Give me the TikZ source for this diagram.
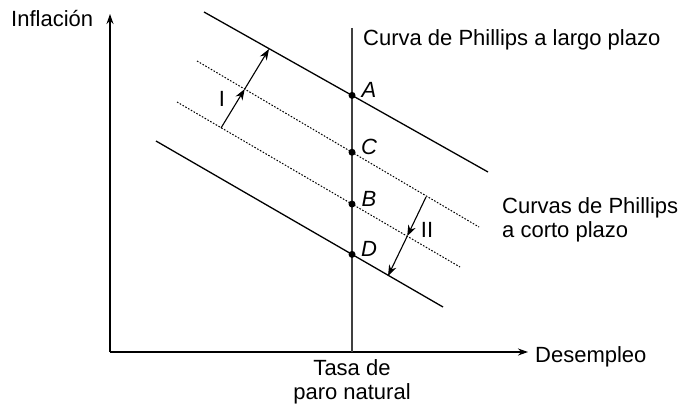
\documentclass[tikz,border=0pt]{standalone}
\usepackage{fontspec}
\setmainfont{Liberation Sans}
\usetikzlibrary{arrows.meta}

\begin{document}
\begin{tikzpicture}[x=1pt,y=-1pt,
  axis/.style={-{Stealth[length=10pt,width=7pt]},line width=1.2pt},
  spc/.style={line width=1.3pt},
  spcdot/.style={line width=1pt,dash pattern=on 1.6pt off 1.6pt},
  lpc/.style={draw=black!75,line width=1.3pt},
  move/.style={-{Stealth[length=11pt,width=8pt]},line width=1.1pt},
  dot/.style={circle,fill=black,inner sep=0pt,minimum size=7pt},
  txt/.style={font=\fontsize{22}{24}\selectfont,inner sep=0pt},
  ptlbl/.style={font=\fontsize{22}{24}\selectfont\itshape,inner sep=0pt},
]
\useasboundingbox (0,0) rectangle (682,404);
\coordinate (O) at (110,352);
\coordinate (ytop) at (110,14);
\coordinate (xend) at (528,352);
\draw[axis] (O) -- (ytop);
\draw[axis] (O) -- (xend);
\node[txt,anchor=base west] (infl) at (11,27) {Inflación};
\node[txt,anchor=base west] (desem) at (535,362) {Desempleo};
\coordinate (lr0) at (352,28);
\coordinate (lr1) at (352,352);
\draw[lpc] (lr0) -- (lr1);
\node[txt,anchor=base west] (lrtxt) at (363,46) {Curva de Phillips a largo plazo};
\node[txt,anchor=north,align=center] (natural) at (352,359) {Tasa de\\paro natural};
% short-run curves
\coordinate (a0) at (204,12);  \coordinate (a1) at (488,172);
\coordinate (c0) at (197,61);  \coordinate (c1) at (479,227);
\coordinate (b0) at (177,102); \coordinate (b1) at (460,267);
\coordinate (d0) at (156,141); \coordinate (d1) at (443,307);
\draw[spc] (a0) -- (a1);
\draw[spcdot] (c0) -- (c1);
\draw[spcdot] (b0) -- (b1);
\draw[spc] (d0) -- (d1);
\node[txt,anchor=north west,align=left] (srtxt) at (502,197) {Curvas de Phillips\\a corto plazo};
\node[dot] (A) at (intersection of lr0--lr1 and a0--a1) {};
\node[dot] (C) at (intersection of lr0--lr1 and c0--c1) {};
\node[dot] (B) at (intersection of lr0--lr1 and b0--b1) {};
\node[dot] (D) at (intersection of lr0--lr1 and d0--d1) {};
\foreach \p in {A,C,B,D}
  \node[ptlbl] (l\p) at ([shift={(17pt,5pt)}]\p) {\p};
% shifts I and II
\coordinate (i0) at (221,128);
\coordinate (i2) at (269,49);
\coordinate (i1) at (intersection of i0--i2 and c0--c1);
\draw[move] (i0) -- (i1);
\draw[move] (i1) -- (i2);
\node[txt] (lI) at (222,99) {I};
\coordinate (j0) at (426,197);
\coordinate (j2) at (388,276);
\coordinate (j1) at (intersection of j0--j2 and b0--b1);
\draw[move] (j0) -- (j1);
\draw[move] (j1) -- (j2);
\node[txt] (lII) at (427,230) {II};
\end{tikzpicture}
\end{document}
